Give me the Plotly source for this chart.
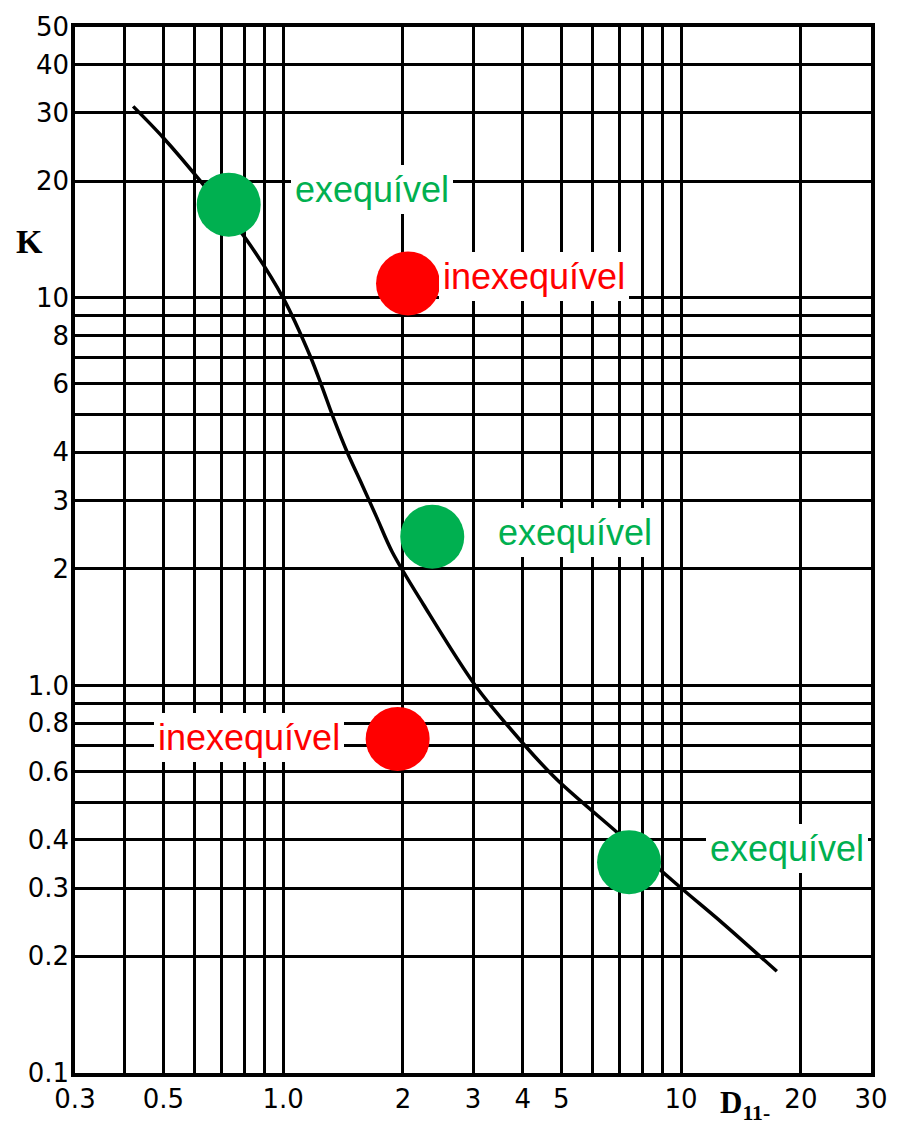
import numpy as np
import plotly.graph_objects as go

# Design curve K versus D11 (log-log)
curve_d = [0.42, 0.50, 0.62, 0.81, 1.0, 1.17, 1.25, 1.34, 1.45, 1.58, 1.72, 1.88,
           2.25, 3.04, 4.05, 4.88, 6.9, 9.93, 12.75, 17.4]
curve_k = [31.2, 25.9, 20.0, 14.1, 10.0, 7.07, 5.93, 4.88, 3.99, 3.29, 2.71, 2.21,
           1.62, 1.0, 0.70, 0.571, 0.418, 0.302, 0.243, 0.183]

# Checked cases
case_d = [0.73, 2.06, 2.37, 1.94, 7.40]
case_k = [17.4, 10.9, 2.42, 0.728, 0.35]
case_label = ["exequível", "inexequível", "exequível", "inexequível", "exequível"]

# Labelled ticks and extra grid lines
x_ticks = [0.3, 0.5, 1.0, 2, 3, 4, 5, 10, 20, 30]
x_ticktext = ["0.3", "0.5", "1.0", "2", "3", "4", "5", "10", "20", "30"]
x_minor = [0.4, 0.6, 0.7, 0.8, 0.9, 6, 7, 8, 9]
y_ticks = [0.1, 0.2, 0.3, 0.4, 0.6, 0.8, 1.0, 2, 3, 4, 6, 8, 10, 20, 30, 40, 50]
y_ticktext = ["0.1", "0.2", "0.3", "0.4", "0.6", "0.8", "1.0", "2", "3", "4", "6",
              "8", "10", "20", "30", "40", "50"]
y_minor = [0.5, 0.7, 0.9, 5, 7, 9]

GREEN = "#00B050"
RED = "#FF0000"

W, H = 900, 1126
ML, MR, MT, MB = 75, 26, 18, 53
PW, PH = W - ML - MR, H - MT - MB

fig = go.Figure()

fig.add_trace(go.Scatter(
    x=curve_d, y=curve_k, mode="lines",
    line=dict(color="black", width=3.5, shape="spline", smoothing=0.9),
    hoverinfo="skip", showlegend=False,
))

colors = [GREEN if lab == "exequível" else RED for lab in case_label]
fig.add_trace(go.Scatter(
    x=case_d, y=case_k, mode="markers",
    marker=dict(size=64, color=colors, line=dict(width=0)),
    showlegend=False,
))

# label offsets (px) next to each case marker
offsets = [(62, 15, "left"), (31, 7, "left"), (62, 4, "left"),
           (-54, 1, "right"), (77, 14, "left")]
for d, k, lab, c, (dx, dy, anc) in zip(case_d, case_k, case_label, colors, offsets):
    fig.add_annotation(
        x=np.log10(d), y=np.log10(k), xref="x", yref="y",
        text=lab, showarrow=False, xanchor=anc, yanchor="middle",
        xshift=dx, yshift=dy,
        font=dict(family="Liberation Sans, Arial", size=36, color=c),
        bgcolor="white", borderpad=4, borderwidth=0,
    )

# axis titles
fig.add_annotation(
    x=(29.5 - ML) / PW, y=(H - MB - 234) / PH, xref="paper", yref="paper",
    text="<b>K</b>", showarrow=False, xanchor="center", yanchor="middle",
    font=dict(family="Liberation Serif, Times New Roman", size=34, color="black"),
)
fig.add_annotation(
    x=(720 - ML) / PW, y=(H - MB - 1083) / PH, xref="paper", yref="paper",
    text="<b>D<sub>11-</sub></b>", showarrow=False, xanchor="left", yanchor="top",
    font=dict(family="Liberation Serif, Times New Roman", size=31, color="black"),
)

axis_common = dict(
    type="log", showgrid=True, gridcolor="black", gridwidth=2.8,
    showline=True, linecolor="black", linewidth=3.5, mirror=True,
    ticks="", zeroline=False, tickmode="array",
    tickfont=dict(family="DejaVu Sans", size=26, color="black"),
)
minor_common = dict(tickmode="array", showgrid=True, gridcolor="black",
                    gridwidth=2.8, ticks="")

fig.update_xaxes(
    range=[np.log10(0.3), np.log10(30)],
    tickvals=x_ticks, ticktext=x_ticktext,
    minor=dict(tickvals=x_minor, **minor_common),
    ticklabelstandoff=0,
    **axis_common,
)
fig.update_yaxes(
    range=[np.log10(0.1), np.log10(50)],
    tickvals=y_ticks, ticktext=y_ticktext,
    minor=dict(tickvals=y_minor, **minor_common),
    ticklabelstandoff=-3,
    **axis_common,
)

fig.update_layout(
    width=W, height=H,
    margin=dict(l=ML, r=MR, t=MT, b=MB, pad=0),
    paper_bgcolor="white", plot_bgcolor="white",
    showlegend=False,
)

fig.write_html("out.html")
